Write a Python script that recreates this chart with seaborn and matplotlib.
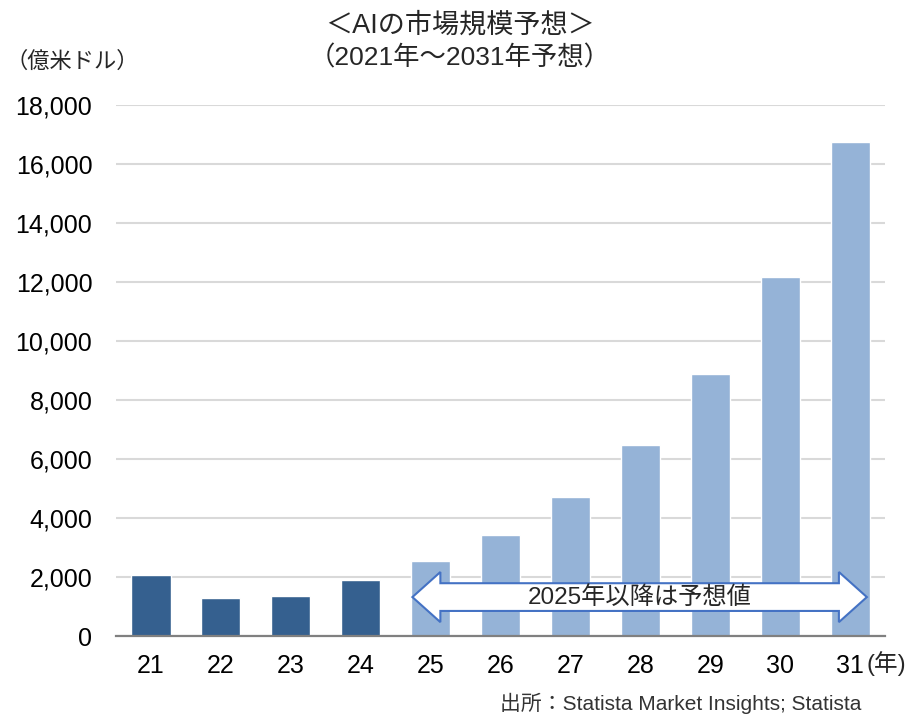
import matplotlib
matplotlib.use("Agg")
import matplotlib.pyplot as plt
from matplotlib.patches import Polygon
import pandas as pd
import seaborn as sns

# data (億米ドル)
years = ["21", "22", "23", "24", "25", "26", "27", "28", "29", "30", "31"]
market = [2070, 1280, 1370, 1890, 2530, 3440, 4720, 6480, 8880, 12180, 16750]
kind = ["actual"] * 4 + ["forecast"] * 7
yticks = [0, 2000, 4000, 6000, 8000, 10000, 12000, 14000, 16000, 18000]

df = pd.DataFrame({"year": years, "value": market, "kind": kind})

sns.set_theme(style="white")
plt.rcParams["font.family"] = ["Liberation Sans", "Noto Sans CJK JP", "DejaVu Sans"]

fig = plt.figure(figsize=(9.11, 7.16), dpi=100)
ax = fig.add_axes([0.1273, 0.1117, 0.8442, 0.7417])

sns.barplot(data=df, x="year", y="value", hue="kind", order=years,
            palette={"actual": "#35608F", "forecast": "#95B3D7"},
            width=0.56, dodge=False, legend=False, saturation=1, ax=ax, zorder=2)

ax.set_ylim(0, 18000)
ax.set_xlim(-0.5, len(years) - 0.5)
ax.set_yticks(yticks)
ax.set_yticklabels([f"{v:,}" for v in yticks])
ax.yaxis.grid(True, color="#D9D9D9", linewidth=1.5, zorder=0)
ax.set_axisbelow(True)
for s in ["top", "right", "left"]:
    ax.spines[s].set_visible(False)
ax.spines["bottom"].set_color("#808080")
ax.spines["bottom"].set_linewidth(1.6)
ax.spines["bottom"].set_zorder(3)
ax.tick_params(axis="y", length=0, pad=17, labelsize=18, labelcolor="black")
ax.tick_params(axis="x", length=0, pad=13, labelsize=18, labelcolor="black")
ax.set_xlabel("")
ax.set_ylabel("")

# double-headed forecast arrow
x0, x1 = 3.74, 10.24
yc = 1320
body = 470
head = 850
hl = 0.40
arrow = Polygon([(x0, yc), (x0 + hl, yc + head), (x0 + hl, yc + body),
                 (x1 - hl, yc + body), (x1 - hl, yc + head), (x1, yc),
                 (x1 - hl, yc - head), (x1 - hl, yc - body), (x0 + hl, yc - body),
                 (x0 + hl, yc - head)], closed=True, facecolor="white",
                edgecolor="#4472C4", linewidth=1.5, zorder=4)
ax.add_patch(arrow)
ax.text((x0 + x1) / 2, yc, "2025年以降は予想値", ha="center", va="center",
        fontsize=17.5, zorder=5)

fig.text(0.505, 0.965, "＜AIの市場規模予想＞", ha="center", va="center", fontsize=19.5)
fig.text(0.505, 0.919, "（2021年～2031年予想）", ha="center", va="center", fontsize=19)
fig.text(0.006, 0.913, "（億米ドル）", ha="left", va="center", fontsize=16)
fig.text(0.951, 0.073, "(年)", ha="left", va="center", fontsize=17)
fig.text(0.946, 0.018, "出所：Statista Market Insights; Statista", ha="right",
         va="center", fontsize=15, color="#333333")

fig.savefig("out.png", dpi=100)
